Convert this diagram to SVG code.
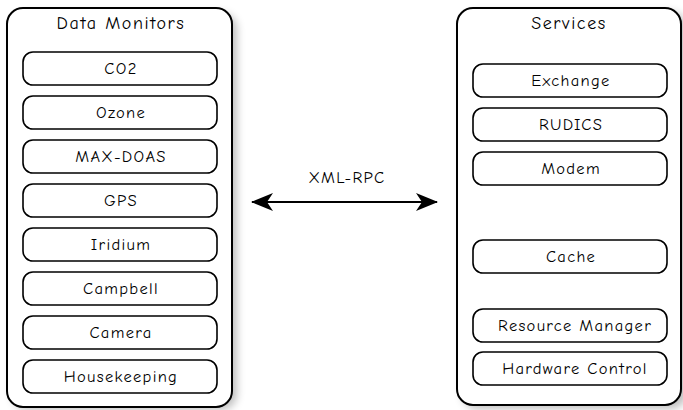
<svg xmlns="http://www.w3.org/2000/svg" width="683" height="410" viewBox="0 0 683 410">
<style>
.cont{fill:#fff;stroke:#000;stroke-width:2}
.box{fill:#fff;stroke:#000;stroke-width:1.6}
text{font-family:"Comic Sans MS","Comic Neue","DejaVu Sans",sans-serif;fill:#000;text-anchor:middle;dominant-baseline:central}
.t{font-size:18px;letter-spacing:1.6px}
.l{font-size:16.5px;letter-spacing:1.3px}
.conn{stroke:#000;stroke-width:2;fill:none}
</style>
<defs>
<filter id="sh" x="-10%" y="-10%" width="130%" height="130%">
<feGaussianBlur stdDeviation="4"/>
</filter>
<marker id="ah" viewBox="0 0 22 18" refX="21" refY="9" markerWidth="22" markerHeight="18" markerUnits="userSpaceOnUse" orient="auto-start-reverse">
<path d="M0,0 L22,9 L0,18 L6,9 Z" fill="#000"/>
</marker>
</defs>
<rect x="12" y="13" width="225" height="397" rx="16" fill="#000" opacity="0.25" filter="url(#sh)"/>
<rect x="462" y="12" width="225" height="397" rx="16" fill="#000" opacity="0.25" filter="url(#sh)"/>
<g id="data-monitors">
<rect class="cont" x="7" y="8" width="225" height="399" rx="16"/>
<text class="t" x="121" y="23">Data Monitors</text>
</g>
<g id="co2"><rect class="box" x="23" y="52" width="194" height="33" rx="10"/><text class="l" x="121" y="68.5">CO2</text></g>
<g id="ozone"><rect class="box" x="23" y="96" width="194" height="33" rx="10"/><text class="l" x="121" y="112.5">Ozone</text></g>
<g id="max-doas"><rect class="box" x="23" y="140" width="194" height="33" rx="10"/><text class="l" x="121" y="156.5">MAX-DOAS</text></g>
<g id="gps"><rect class="box" x="23" y="184" width="194" height="33" rx="10"/><text class="l" x="121" y="200.5">GPS</text></g>
<g id="iridium"><rect class="box" x="23" y="228" width="194" height="33" rx="10"/><text class="l" x="121" y="244.5">Iridium</text></g>
<g id="campbell"><rect class="box" x="23" y="272" width="194" height="33" rx="10"/><text class="l" x="121" y="288.5">Campbell</text></g>
<g id="camera"><rect class="box" x="23" y="316" width="194" height="33" rx="10"/><text class="l" x="121" y="332.5">Camera</text></g>
<g id="housekeeping"><rect class="box" x="23" y="360" width="194" height="33" rx="10"/><text class="l" x="121" y="376.5">Housekeeping</text></g>
<g id="services">
<rect class="cont" x="457" y="8" width="224" height="397" rx="16"/>
<text class="t" x="569" y="23">Services</text>
</g>
<g id="exchange"><rect class="box" x="473" y="64" width="194" height="33" rx="10"/><text class="l" x="571" y="80.5">Exchange</text></g>
<g id="rudics"><rect class="box" x="473" y="108" width="194" height="33" rx="10"/><text class="l" x="571" y="124.5">RUDICS</text></g>
<g id="modem"><rect class="box" x="473" y="152" width="194" height="33" rx="10"/><text class="l" x="571" y="168.5">Modem</text></g>
<g id="cache"><rect class="box" x="473" y="240" width="194" height="33" rx="10"/><text class="l" x="571" y="256.5">Cache</text></g>
<g id="resource-manager"><rect class="box" x="473" y="309" width="194" height="33" rx="10"/><text class="l" x="575" y="325.5">Resource Manager</text></g>
<g id="hardware-control"><rect class="box" x="473" y="352" width="194" height="33" rx="10"/><text class="l" x="575" y="368.5">Hardware Control</text></g>
<g id="connectors">
<line class="conn" x1="252" y1="202" x2="437" y2="202" marker-start="url(#ah)" marker-end="url(#ah)"/>
<text class="l" x="347" y="177">XML-RPC</text>
</g>
</svg>
